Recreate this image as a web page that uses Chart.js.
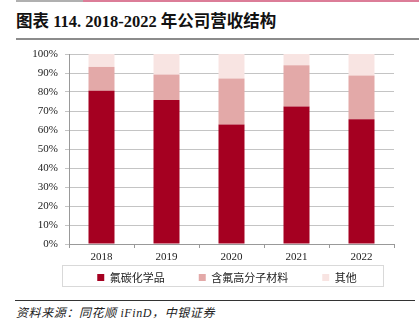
<!DOCTYPE html>
<html>
<head>
<meta charset="utf-8">
<script src="https://cdn.jsdelivr.net/npm/chart.js@4"></script>
<style>
  html, body { margin: 0; padding: 0; background: #fff; }
  body { width: 419px; height: 329px; position: relative; overflow: hidden; }
  #topline1 { position: absolute; left: 16px; top: 0; width: 67px; height: 2px; background: #b0b0b0; }
  #topline2 { position: absolute; left: 83px; top: 0; width: 336px; height: 2px; background: #dc7d98; }
  #title { position: absolute; left: 16px; top: 8px; font: bold 16.5px "Liberation Serif", "Noto Sans CJK SC", serif; color: #111; white-space: nowrap; }
  #titleline { position: absolute; left: 16px; top: 38px; width: 403px; height: 2px; background: #8c8c8c; }
  #chdiv { position: absolute; left: 0; top: 40px; width: 419px; height: 253px; }
  #footline { position: absolute; left: 15px; top: 300px; width: 400px; height: 1px; background: #333; }
  #source { position: absolute; left: 16px; top: 303px; font: italic 12px "Liberation Serif", "Noto Sans CJK SC", serif; letter-spacing: 0.6px; color: #222; white-space: nowrap; }
</style>
</head>
<body>
<div id="topline1"></div>
<div id="topline2"></div>
<div id="title">图表 114. 2018-2022 年公司营收结构</div>
<div id="titleline"></div>
<div id="chdiv"><canvas id="blchart" width="419" height="253"></canvas></div>
<div id="footline"></div>
<div id="source">资料来源：同花顺 iFinD，中银证券</div>
<script>
const years = ['2018', '2019', '2020', '2021', '2022'];
const fluoroChem = [80.6, 75.8, 62.9, 72.4, 65.6];
const fluoroPolymer = [12.6, 13.4, 24.2, 21.7, 23.1];
const others = [6.8, 10.8, 12.9, 5.9, 11.3];
const seriesNames = ['氟碳化学品', '含氟高分子材料', '其他'];

//legend sits a bit right of the canvas centre, with a thin frame round it
const legendFrame = {
  id: 'legendFrame',
  afterLayout(chart) {
    chart.legend.left = 60;
  },
  afterDraw(chart) {
    const ctx = chart.ctx;
    ctx.save();
    ctx.strokeStyle = '#d9d9d9';
    ctx.lineWidth = 1;
    ctx.strokeRect(62.5, 225.5, 321, 21);
    ctx.restore();
  },
};

Chart.defaults.font.family = '"Liberation Serif", "Noto Sans CJK SC", serif';
Chart.defaults.font.size = 11;
Chart.defaults.color = '#222';

new Chart(document.getElementById('blchart').getContext('2d'), {
  type: 'bar',
  data: {
    labels: years,
    datasets: [
      { label: seriesNames[0], data: fluoroChem, backgroundColor: '#a50021' },
      { label: seriesNames[1], data: fluoroPolymer, backgroundColor: '#e3a9a8' },
      { label: seriesNames[2], data: others, backgroundColor: '#f8e4e2' },
    ],
  },
  options: {
    responsive: false,
    animation: false,
    layout: { padding: { top: 14, right: 25, bottom: 0, left: 0 } },
    datasets: { bar: { categoryPercentage: 1, barPercentage: 0.4 } },
    plugins: {
      legend: {
        position: 'bottom',
        labels: {
          boxWidth: 7,
          boxHeight: 7,
          padding: 12,
          font: { family: '"Noto Sans CJK SC", sans-serif', size: 11 },
          // extra gap after each item, like the original
          generateLabels(chart) {
            const items = Chart.defaults.plugins.legend.labels.generateLabels(chart);
            items.forEach((it, i) => {
              if (i < items.length - 1) it.text = it.text + '\u3000\u3000';
            });
            return items;
          },
        },
      },
      tooltip: { enabled: false },
    },
    scales: {
      x: {
        stacked: true,
        afterFit(scale) { scale.height = 16; },
        grid: { drawOnChartArea: false, drawTicks: true, tickLength: 4, color: '#999' },
        border: { color: '#999' },
        ticks: { padding: 3, color: '#222' },
      },
      y: {
        stacked: true,
        min: 0,
        max: 100,
        afterFit(scale) { scale.width = 69; },
        grid: { color: '#c4c4c4', tickLength: 4 },
        border: { color: '#999' },
        ticks: { stepSize: 10, autoSkip: false, padding: 7, callback: (v) => v + '%' },
      },
    },
  },
  plugins: [legendFrame],
});
</script>
</body>
</html>
